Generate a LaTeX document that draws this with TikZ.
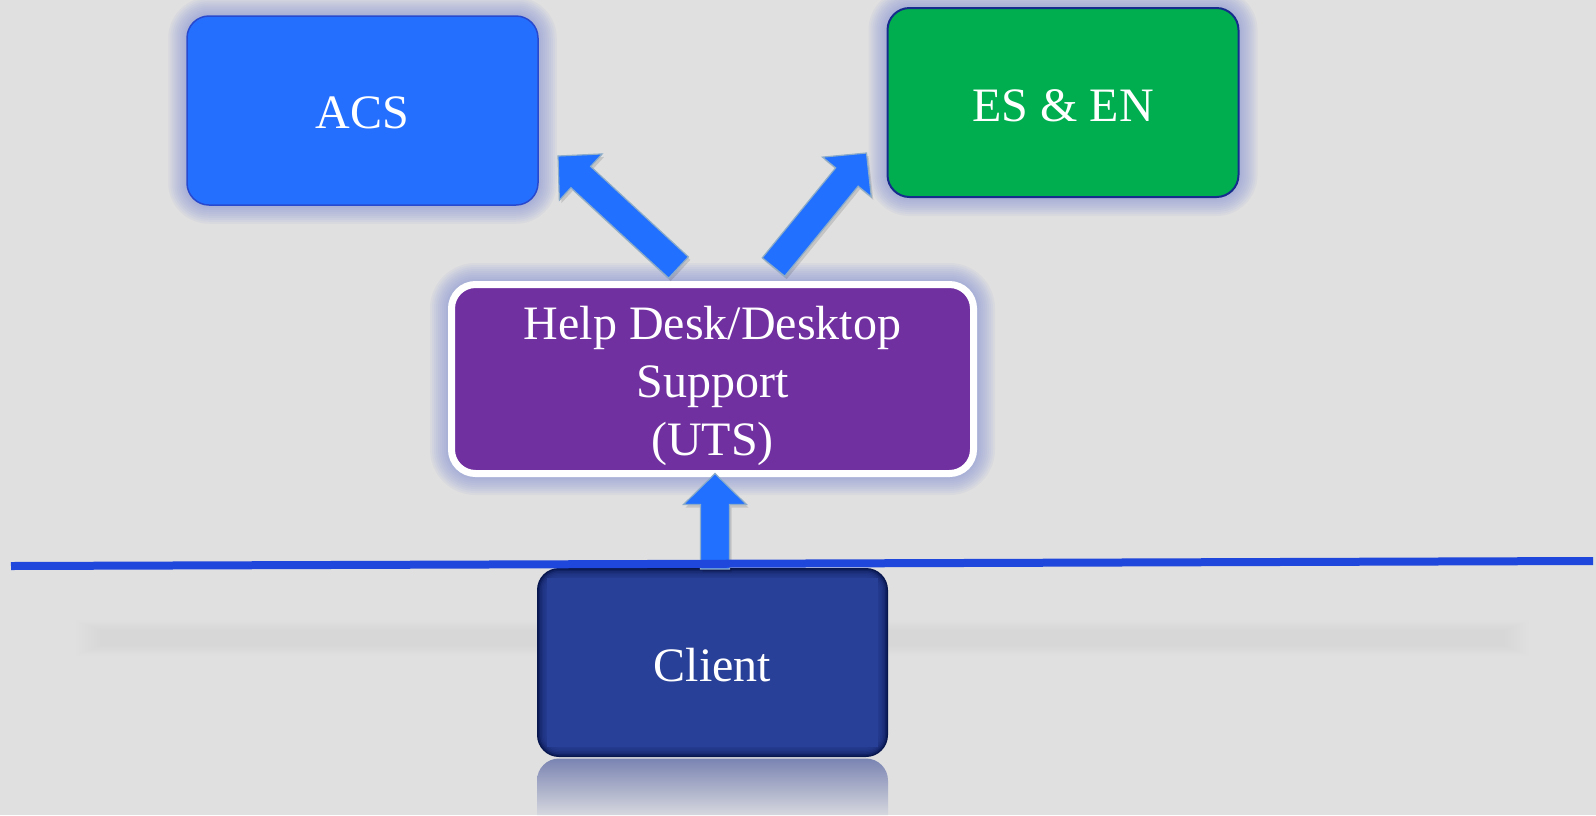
\documentclass[tikz,border=0pt]{standalone}
\usepackage{fontspec}
\setmainfont{Liberation Serif}
\usetikzlibrary{calc}

\definecolor{bg}{RGB}{224,224,224}
\definecolor{acsblue}{RGB}{37,111,255}
\definecolor{acsedge}{RGB}{40,72,205}
\definecolor{esgreen}{RGB}{0,174,80}
\definecolor{esedge}{RGB}{22,44,140}
\definecolor{uts}{RGB}{112,48,160}
\definecolor{clientblue}{RGB}{41,64,152}
\definecolor{clientedge}{RGB}{8,22,78}
\definecolor{glowblue}{RGB}{120,135,215}
\definecolor{arrowblue}{RGB}{33,112,255}
\definecolor{arrowedge}{RGB}{140,172,200}
\definecolor{rulecol}{RGB}{32,71,219}
\definecolor{reflecttop}{RGB}{122,132,178}
\definecolor{reflectbot}{RGB}{214,215,222}

\pgfdeclarelayer{back}
\pgfdeclarelayer{under}
\pgfsetlayers{back,under,main}

% invisible strut that lowers a centred label a little
\newcommand\lowerstrut[1]{\rule{0pt}{#1}}

\tikzset{
  box/.style={rounded corners=22pt, minimum width=351pt, minimum height=189pt,
    inner sep=0pt, outer sep=0pt, text=white,
    font=\fontsize{48}{58}\selectfont, align=center},
  acsbox/.style={box, fill=acsblue, draw=acsedge, line width=1.5pt},
  esbox/.style={box, fill=esgreen, draw=esedge, line width=2pt},
  utsbox/.style={box, minimum width=522pt, fill=uts, draw=white, line width=7pt,
    rounded corners=24pt},
  clientbox/.style={box},
  arrowshape/.style={fill=arrowblue, draw=arrowedge, line width=1.2pt, line join=miter},
  arrowshade/.style={fill=black, opacity=0.12, transform canvas={shift={(2pt,-3pt)}}},
  divider/.style={draw=rulecol, line width=8pt},
}

% soft glow around a rounded box: #1 node, #2 corner radius, #3 half border width
\newcommand\glowaround[3]{%
  \foreach \gr in {2,4,...,18} {
    \pgfmathsetmacro\grr{#2+\gr+#3}
    \pgfmathsetmacro\grd{\gr+#3}
    \fill[glowblue, opacity=0.07, rounded corners=\grr pt]
      ($(#1.south west)+(-\grd,\grd)$) rectangle ($(#1.north east)+(\grd,-\grd)$);
  }}

% block arrow from tail #1 to tip #2
\newcommand\blockpath[2]{%
  ($(#1)!14.5pt!90:(#2)$) -- ($(ah)!14.5pt!90:(#2)$) -- ($(ah)!31.5pt!90:(#2)$)
  -- (#2) -- ($(ah)!31.5pt!-90:(#2)$) -- ($(ah)!14.5pt!-90:(#2)$)
  -- ($(#1)!14.5pt!-90:(#2)$) -- cycle}
\newcommand\blockarrow[2]{%
  \coordinate (ah) at ($(#2)!31pt!(#1)$);
  \fill[arrowshade] \blockpath{#1}{#2};
  \path[arrowshape] \blockpath{#1}{#2};}

\begin{document}
\begin{tikzpicture}[x=1pt, y=-1pt]
  \useasboundingbox (0,0) rectangle (1596,815);
  \clip (0,0) rectangle (1596,815);

  % boxes
  \node[acsbox] (acs) at (362.5,110.5) {\lowerstrut{37pt}ACS};
  \node[esbox] (es) at (1063,102.5) {\lowerstrut{38pt}ES \& EN};
  \node[utsbox] (uts) at (712.5,379) {\lowerstrut{47pt}Help Desk/Desktop\\Support\\(UTS)};
  \node[clientbox] (client) at (712.5,662.5) {\lowerstrut{38pt}Client};

  \begin{pgfonlayer}{back}
    \fill[bg] (0,0) rectangle (1596,815);
    % soft floor shadow
    \foreach \sw in {0,3,...,24} {
      \fill[black, opacity=0.005] (100-\sw,630-\sw/2.5) rectangle (1505+\sw,646+\sw/2.5);
    }
  \end{pgfonlayer}

  \begin{pgfonlayer}{under}
    \glowaround{acs}{22}{0.75}
    \glowaround{es}{22}{1}
    \glowaround{uts}{24}{3.5}
    % client body: dark rim shading into the face
    \fill[clientedge, rounded corners=22pt] (client.south west) rectangle (client.north east);
    \foreach \ci in {1.5,3,...,9} {
      \pgfmathsetmacro\cr{22-\ci}
      \fill[clientblue, opacity=0.3, rounded corners=\cr pt]
        ($(client.south west)+(\ci,-\ci)$) rectangle ($(client.north east)+(-\ci,\ci)$);
    }
    \fill[clientblue] ($(client.south west)+(10,-10)$) rectangle ($(client.north east)+(-10,10)$);
    % mirrored reflection of the client box
    \coordinate (rl) at ($(client.south west)+(0,1.5)$);
    \coordinate (rr) at ($(client.south east)+(0,1.5)$);
    \shade[top color=reflecttop, bottom color=reflectbot]
      (rl |- 0,815) [rounded corners=22pt] -- (rl) -- (rr) [sharp corners] -- (rr |- 0,815) -- cycle;
  \end{pgfonlayer}

  % connectors
  \coordinate (acsTail) at ($(uts.north)+(-34,-17)$);
  \coordinate (acsTip) at ($(acs.south east)+(20,-49)$);
  \coordinate (esTail) at ($(uts.north)+(61,-17.5)$);
  \coordinate (esTip) at ($(es.south west)+(-21,-44)$);
  \coordinate (cTail) at ($(client.north)+(2.5,1)$);
  \coordinate (cTip) at (cTail |- uts.south);
  \blockarrow{acsTail}{acsTip}
  \blockarrow{esTail}{esTip}
  \blockarrow{cTail}{cTip}

  % dividing line
  \coordinate (ruleL) at (11,566);
  \coordinate (ruleR) at (1593,561);
  \draw[divider] (ruleL) -- (ruleR);
\end{tikzpicture}
\end{document}
